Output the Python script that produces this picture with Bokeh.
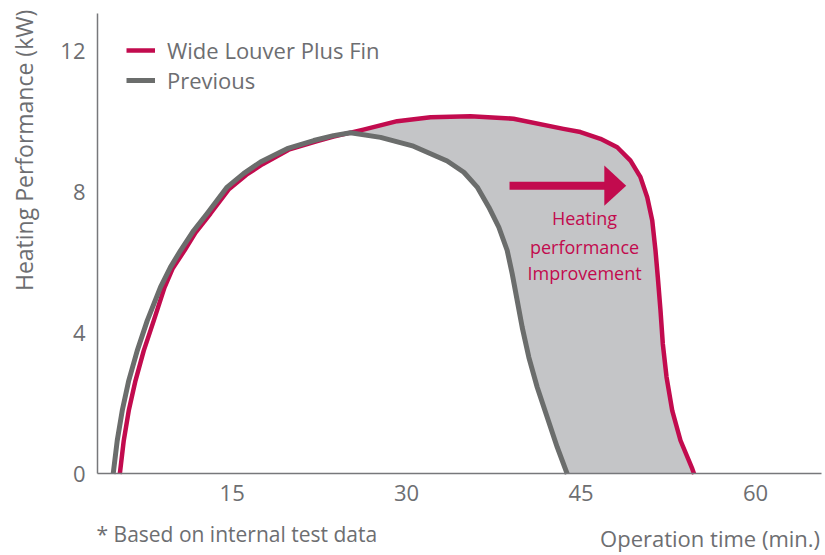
import numpy as np
from bokeh.plotting import figure
from bokeh.models import Range1d, FixedTicker, Label, Legend, LegendItem
from bokeh.embed import file_html
from bokeh.resources import INLINE
from bokeh.core.properties import value

# ---- data ----
wide_x = [5.34, 5.68, 6.11, 6.69, 7.40, 8.26, 9.18, 9.87, 10.90, 11.85, 13.14, 14.69, 16.23,
          17.61, 19.86, 22.17, 23.71, 26.29, 29.19, 32.06, 35.49, 39.19, 43.49, 44.95, 46.67,
          48.11, 49.25, 50.11, 50.69, 51.12, 51.40, 51.60, 51.83, 52.03, 52.35, 52.84, 53.55,
          54.56, 54.72]
wide_y = [0.0, 0.95, 1.80, 2.65, 3.50, 4.35, 5.29, 5.82, 6.34, 6.85, 7.39, 8.07, 8.49,
          8.79, 9.20, 9.43, 9.57, 9.77, 10.01, 10.12, 10.15, 10.08, 9.79, 9.70, 9.51,
          9.27, 8.89, 8.42, 7.85, 7.19, 6.34, 5.58, 4.64, 3.69, 2.75, 1.80, 0.95,
          0.15, 0.0]
prev_x = [4.77, 5.12, 5.55, 6.11, 6.84, 7.70, 8.84, 9.70, 10.56, 11.70, 12.85, 14.57, 15.98,
          17.44, 19.73, 22.02, 23.71, 25.18, 27.76, 30.59, 33.49, 34.92, 36.07, 37.07, 37.93,
          38.65, 39.08, 39.51, 39.94, 40.51, 41.23, 42.09, 42.95, 43.81]
prev_y = [0.0, 0.95, 1.80, 2.65, 3.50, 4.35, 5.30, 5.87, 6.34, 6.91, 7.39, 8.14, 8.52,
          8.85, 9.23, 9.46, 9.60, 9.68, 9.55, 9.30, 8.88, 8.56, 8.14, 7.57, 7.00,
          6.34, 5.68, 4.92, 4.16, 3.31, 2.46, 1.61, 0.76, 0.0]
x_ticks = [15, 30, 45, 60]
y_ticks = [0, 4, 8, 12]
series_names = ["Wide Louver Plus Fin", "Previous"]
note_lines = ["Heating", "performance", "Improvement"]

RED = "#c20b4e"
GREY = "#6b6d6c"
FILL = "#c4c5c7"
TXT = "#6d6e71"
FONT = "Open Sans"

X0, X1 = 3.42, 65.68      # visible axis extents
Y0, Y1 = 0.0, 13.06

p = figure(width=822, height=554, output_backend="svg", toolbar_location=None,
           x_range=Range1d(-4.918, 65.76), y_range=Range1d(-2.284, 13.433),
           min_border_left=0, min_border_right=0, min_border_top=0, min_border_bottom=0)
p.outline_line_color = None
p.grid.grid_line_color = None
p.background_fill_color = "white"

# shaded improvement area between the two curves (after they diverge)
wx = np.array(wide_x); wy = np.array(wide_y)
px_ = np.array(prev_x); py_ = np.array(prev_y)
split = 23.7
mw = wx >= split
mp = px_ >= split
poly_x = list(wx[mw]) + list(px_[mp][::-1])
poly_y = list(wy[mw]) + list(py_[mp][::-1])
p.patch(poly_x, poly_y, fill_color=FILL, line_color=None)

r_red = p.line(wide_x, wide_y, line_color=RED, line_width=4.5, line_join="round")
r_grey = p.line(prev_x, prev_y, line_color=GREY, line_width=5, line_join="round")

# arrow (annotation)
ay = 8.18
p.segment(x0=[38.85], y0=[ay], x1=[47.2], y1=[ay], line_color=RED, line_width=8)
p.patch([47.0, 48.88, 47.0], [ay + 0.57, ay, ay - 0.57], fill_color=RED, line_color=None)

note_y = [7.25, 6.43, 5.69]
p.text(x=[45.3] * 3, y=note_y, text=note_lines, text_align="center", text_baseline="middle",
       text_color=RED, text_font=value(FONT), text_font_size="18px")

# axes placed inside the frame
p.xaxis.fixed_location = 0
p.yaxis.fixed_location = X0
p.xaxis.bounds = (X0, X1)
p.yaxis.bounds = (Y0, Y1)
for ax in (p.xaxis[0], p.yaxis[0]):
    ax.axis_line_color = "#77787b"
    ax.axis_line_width = 1.5
    ax.major_tick_line_color = None
    ax.minor_tick_line_color = None
    ax.major_label_text_font = FONT
    ax.major_label_text_font_size = "22px"
    ax.major_label_text_color = TXT
p.xaxis.ticker = FixedTicker(ticks=x_ticks)
p.yaxis.ticker = FixedTicker(ticks=y_ticks)
p.xaxis.major_label_standoff = 5
p.yaxis.major_label_standoff = 6

# axis titles and footnote
p.add_layout(Label(x=-2.855, y=9.18, text="Heating Performance (kW)", angle=np.pi / 2,
                   text_align="center", text_baseline="middle", text_font=FONT,
                   text_font_size="23px", text_color=TXT))
p.add_layout(Label(x=65.55, y=-1.83, text="Operation time (min.)", text_align="right",
                   text_baseline="middle", text_font=FONT, text_font_size="22px", text_color=TXT))
p.add_layout(Label(x=3.34, y=-1.69, text="* Based on internal test data", text_align="left",
                   text_baseline="middle", text_font=FONT, text_font_size="21px", text_color=TXT))

legend = Legend(items=[LegendItem(label=series_names[0], renderers=[r_red]),
                       LegendItem(label=series_names[1], renderers=[r_grey])],
                location=(126, 459), border_line_color=None, background_fill_alpha=0,
                glyph_width=29, glyph_height=30, label_height=30, spacing=0, padding=0, margin=0,
                label_standoff=12, label_text_font=FONT, label_text_font_size="22px",
                label_text_color=TXT)
p.add_layout(legend)

open("out.html", "w").write(file_html(p, INLINE))
